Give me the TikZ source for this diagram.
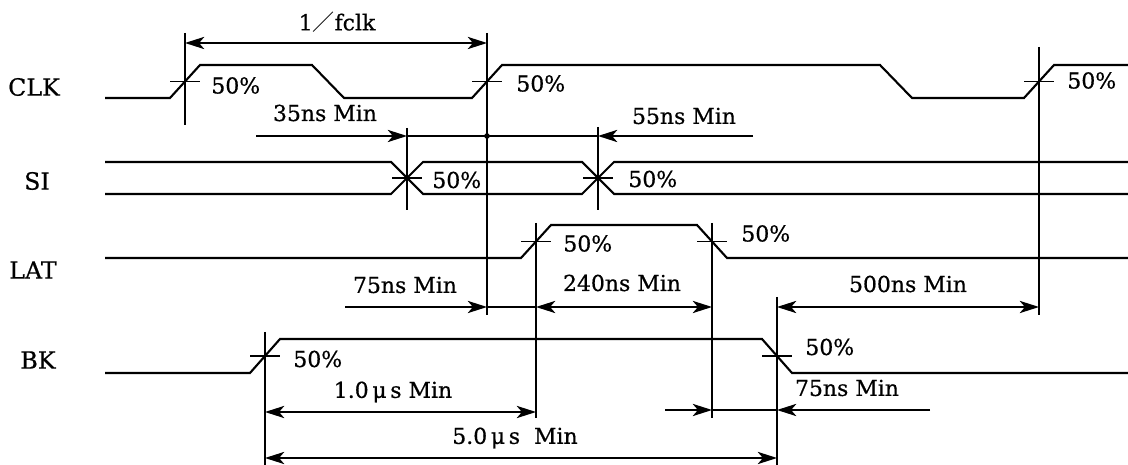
\documentclass[tikz,border=0pt]{standalone}
\usepackage{fontspec}
\setmainfont{DejaVu Serif}[FakeBold=0.6]
\newfontfamily\cjk{Noto Sans CJK JP}
\usetikzlibrary{arrows.meta,calc}

\tikzset{
  wave/.style={line width=1.2pt, line join=miter},
  guide/.style={line width=0.8pt},
  tip/.tip={Stealth[length=11pt,width=7pt,inset=3pt]},
  dim/.style={line width=0.9pt, tip-tip},
  dimr/.style={line width=0.9pt, -tip},
  tick/.style={line width=0.9pt},
  pct/.style={anchor=west, inner sep=0pt, font=\fontsize{12.5}{14}\selectfont},
  lbl/.style={inner sep=0pt, font=\fontsize{12.5}{14}\selectfont},
  sig/.style={inner sep=0pt, font=\fontsize{13.5}{15}\selectfont}
}

\begin{document}
\begin{tikzpicture}[x=0.02cm, y=-0.02cm]
\useasboundingbox (0,0) rectangle (1128,465);

% signal names
\node[sig] (nCLK) at (34,87) {CLK};
\node[sig] (nSI) at (37,181) {SI};
\node[sig] (nLAT) at (33,270) {LAT};
\node[sig] (nBK) at (38,360) {BK};

% 50% points
\coordinate (cA) at (185,81.5);
\coordinate (cB) at (487,81.5);
\coordinate (cC) at (1039,81.5);
\coordinate (sA) at (407,178);
\coordinate (sB) at (598,178);
\coordinate (lA) at (536,241.5);
\coordinate (lB) at (712,241.5);
\coordinate (bA) at (265,356);
\coordinate (bB) at (777,356);

% waveforms
\draw[wave] (105,98) -- (170,98) -- (200,65) -- (312,65) -- (344,98) -- (472,98) -- (502,65) -- (880,65) -- (912,98) -- (1024,98) -- (1054,65) -- (1128,65);
\draw[wave] (105,162) -- (391,162) -- (423,194) -- (582,194) -- (614,162) -- (1128,162);
\draw[wave] (105,194) -- (391,194) -- (423,162) -- (582,162) -- (614,194) -- (1128,194);
\draw[wave] (105,258) -- (521,258) -- (551,225) -- (697,225) -- (727,258) -- (1128,258);
\draw[wave] (105,373) -- (250,373) -- (280,339) -- (762,339) -- (792,373) -- (1128,373);

% 50% ticks and labels
\foreach \c/\dx/\dy in {cA/26/4, cB/29/2, cC/28/-1, sA/25/2, sB/30/1, lA/27/2, lB/29/-8, bA/28/3, bB/28/-9}{
  \draw[tick] ($(\c)+(-15,0)$) -- ($(\c)+(15,0)$);
  \node[pct] (p\c) at ($(\c)+(\dx,\dy)$) {50\%};
}

% guide lines
\coordinate (gTop) at (0,33);
\draw[guide] (cA |- gTop) -- (cA |- 0,125);
\draw[guide] (cB |- gTop) -- (cB |- 0,315);
\draw[guide] (cC |- 0,47) -- (cC |- 0,315);
\draw[guide] (sA |- 0,128) -- (sA |- 0,210);
\draw[guide] (sB |- 0,127) -- (sB |- 0,210);
\draw[guide] (lA |- 0,223) -- (lA |- 0,418);
\draw[guide] (lB |- 0,223) -- (lB |- 0,418);
\draw[guide] (bA |- 0,332) -- (bA |- 0,465);
\draw[guide] (bB |- 0,297) -- (bB |- 0,465);

% 1/fclk
\draw[dim] (cA |- 0,43) -- (cB |- 0,43);
\node[lbl] (tfclk) at (337,22) {1{\cjk ／}fclk};

% 35ns / 55ns
\coordinate (e35) at (256,136);
\coordinate (e55) at (753,136);
\draw[dimr] (e35) -- (sA |- e35);
\draw[guide] (sA |- e35) -- (sB |- e35);
\draw[dimr] (e55) -- (sB |- e55);
\fill (cB |- e35) circle (2.8);
\node[lbl] (t35) at (325,113) {35ns Min};
\node[lbl] (t55) at (684,116) {55ns Min};

% 75ns / 240ns / 500ns
\coordinate (e75a) at (345,307);
\draw[dimr] (e75a) -- (cB |- e75a);
\draw[guide] (cB |- e75a) -- (lA |- e75a);
\draw[dim] (lA |- e75a) -- (lB |- e75a);
\draw[dim] (bB |- e75a) -- (cC |- e75a);
\node[lbl] (t75a) at (405,285) {75ns Min};
\node[lbl] (t240) at (622,283) {240ns Min};
\node[lbl] (t500) at (908,284) {500ns Min};

% 1.0us / 75ns / 5.0us
\coordinate (e1u) at (0,412);
\draw[dim] (bA |- e1u) -- (lA |- e1u);
\node[lbl] (t1u) at (393,392) {1.0\,μ\,s Min};
\coordinate (e75b) at (665,410);
\coordinate (f75b) at (930,410);
\draw[dimr] (e75b) -- (lB |- e75b);
\draw[guide] (lB |- e75b) -- (bB |- e75b);
\draw[dimr] (f75b) -- (bB |- f75b);
\node[lbl] (t75b) at (847,388) {75ns Min};
\coordinate (e5u) at (0,458);
\draw[dim] (bA |- e5u) -- (bB |- e5u);
\node[lbl] (t5u) at (515,438) {5.0\,μ\,s\ \ Min};
\end{tikzpicture}
\end{document}
